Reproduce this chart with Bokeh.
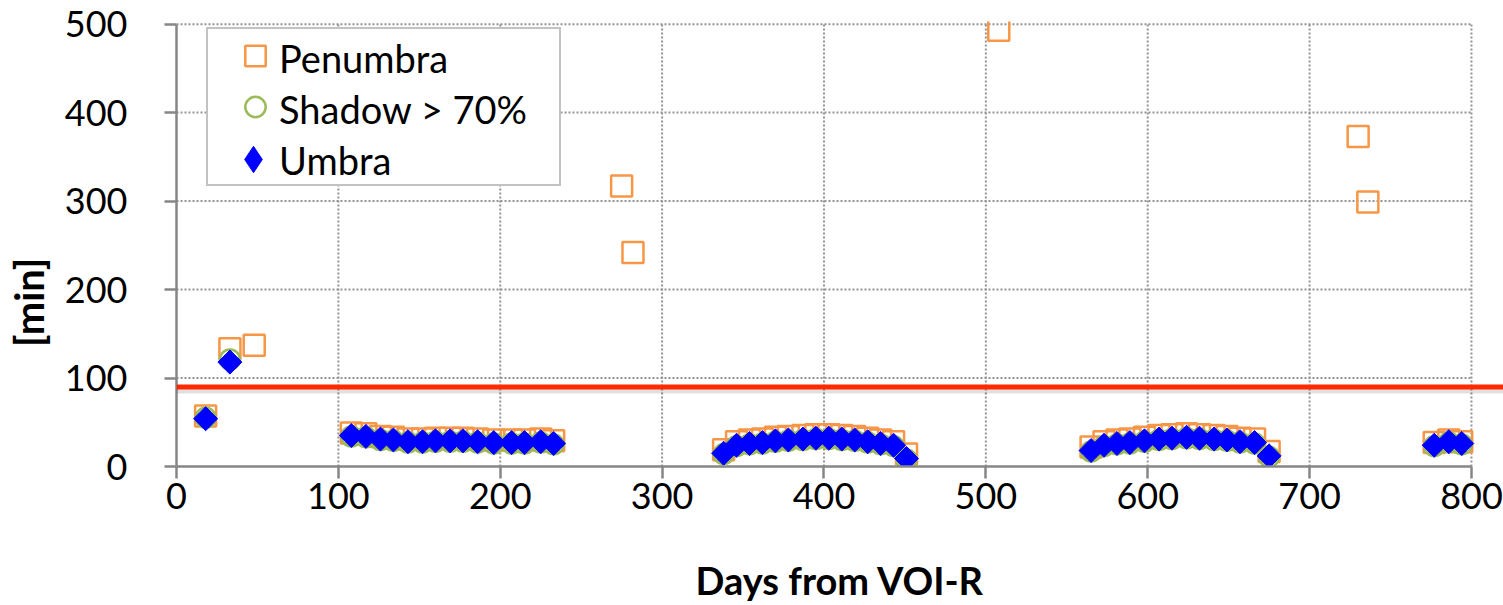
from bokeh.plotting import figure
from bokeh.models import Range1d, Legend, LegendItem, FixedTicker, Span, LinearAxis
from bokeh.embed import file_html
from bokeh.resources import INLINE
import math

# ---------------- data ----------------
x_ticks = [0, 100, 200, 300, 400, 500, 600, 700, 800]
y_ticks = [0, 100, 200, 300, 400, 500]
threshold = 90

pen_days = [18, 33, 48,
            108, 117, 126, 134, 143, 152, 160, 169, 177, 186, 196, 207, 215, 225, 233,
            275, 282,
            338, 346, 354, 362, 370, 378, 387, 395, 403, 411, 419, 427, 435, 443, 451,
            508,
            565, 573, 581, 589, 598, 607, 615, 624, 632, 641, 649, 657, 666, 675,
            730, 736,
            777, 786, 794]
pen_vals = [57, 133, 137,
            38, 37, 34, 33, 31, 31, 32, 32, 32, 31, 30, 30, 30, 31, 29,
            317, 242,
            19, 28, 30, 31, 33, 34, 35, 36, 36, 35, 34, 32, 30, 28, 14,
            493,
            22, 28, 30, 31, 33, 35, 36, 37, 36, 35, 34, 32, 31, 17,
            373, 299,
            27, 30, 28]

umb_days = [18, 33,
            108, 117, 126, 134, 143, 152, 160, 169, 177, 186, 196, 207, 215, 225, 233,
            338, 346, 354, 362, 370, 378, 387, 395, 403, 411, 419, 427, 435, 443, 451,
            565, 573, 581, 589, 598, 607, 615, 624, 632, 641, 649, 657, 666, 675,
            777, 786, 794]
umb_vals = [54, 118,
            35, 34, 31, 30, 28, 28, 29, 29, 29, 28, 27, 27, 27, 28, 26,
            15, 24, 26, 27, 29, 30, 31, 32, 32, 31, 30, 28, 26, 24, 9,
            18, 24, 26, 27, 29, 31, 32, 33, 32, 31, 30, 28, 27, 12,
            24, 28, 26]
sh_days = umb_days
sh_vals = [55, 121,
           34, 33, 30, 29, 27, 27, 28, 28, 28, 27, 26, 26, 26, 27, 25,
           14, 23, 25, 26, 28, 29, 30, 31, 31, 30, 29, 27, 25, 23, 8,
           17, 23, 25, 26, 28, 30, 31, 32, 31, 30, 29, 27, 26, 11,
           23, 27, 25]

series_labels = ["Penumbra", "Shadow > 70%", "Umbra"]
y_title = "[min]"

# ---------------- styling ----------------
FONT = "Lato"
AX = "#868686"
GRID = "#939393"
ORANGE = "#F79646"
GREEN = "#9BBB59"
BLUE = "#0000FF"

W, H = 1503, 605
LEFT, TOP, BOTTOM = 176, 21, 139
x_end = 819.8
p = figure(width=W, height=H,
           x_range=Range1d(0, x_end), y_range=Range1d(0, 503),
           output_backend="svg", toolbar_location=None,
           min_border_left=LEFT, min_border_right=0,
           min_border_top=TOP, min_border_bottom=BOTTOM)
p.outline_line_color = None
p.xgrid.visible = False
p.ygrid.visible = False

# grid lines (dotted), restricted to the 0..800 / 0..500 area
p.segment(x0=x_ticks[1:], x1=x_ticks[1:], y0=[y_ticks[0]] * (len(x_ticks) - 1),
          y1=[y_ticks[-1]] * (len(x_ticks) - 1),
          line_color=GRID, line_width=2, line_dash="2 2", level="underlay")
p.segment(x0=[x_ticks[0]] * (len(y_ticks) - 1), x1=[x_ticks[-1]] * (len(y_ticks) - 1),
          y0=y_ticks[1:], y1=y_ticks[1:],
          line_color=GRID, line_width=2, line_dash="2 2", level="underlay")

for ax in (p.xaxis[0], p.yaxis[0]):
    ax.axis_line_color = AX
    ax.axis_line_width = 2.5
    ax.major_tick_line_color = AX
    ax.major_tick_line_width = 2.5
    ax.major_tick_out = 12
    ax.major_tick_in = 0
    ax.minor_tick_line_color = None
    ax.major_label_text_font = FONT
    ax.major_label_text_font_size = "36px"
    ax.major_label_text_color = "black"
    ax.axis_label_text_font = FONT
    ax.axis_label_text_font_style = "bold"
    ax.axis_label_text_color = "black"

p.xaxis.ticker = FixedTicker(ticks=x_ticks)
p.xaxis.bounds = (x_ticks[0], x_ticks[-1])
p.xaxis.major_label_standoff = 4
p.xaxis.axis_label = "Days from VOI-R"
p.xaxis.axis_label_text_font_size = "38px"
p.xaxis.axis_label_standoff = 45

p.yaxis.ticker = FixedTicker(ticks=y_ticks)
p.yaxis.bounds = (y_ticks[0], y_ticks[-1])
p.yaxis.major_label_standoff = 37

# y-axis title: carried by a bare extra axis; trailing no-break spaces push the
# visible text a little below the axis centre, as in the original
title_axis = LinearAxis(ticker=FixedTicker(ticks=[]),
                        axis_line_color=None, major_tick_line_color=None,
                        minor_tick_line_color=None,
                        axis_label=y_title + "\u00a0" * 12, axis_label_text_font=FONT,
                        axis_label_text_font_style="bold",
                        axis_label_text_font_size="40px",
                        axis_label_text_color="black", axis_label_standoff=9)
p.add_layout(title_axis, "left")

# threshold line with soft shadow
p.add_layout(Span(location=threshold - 3.5, dimension="width",
                  line_color="black", line_alpha=0.12, line_width=7))
p.add_layout(Span(location=threshold, dimension="width",
                  line_color="#FF2A00", line_width=5))

r_pen = p.scatter(pen_days, pen_vals, marker="square", size=21,
                  line_color=ORANGE, line_width=2.5, fill_color=None)
r_sh = p.scatter(sh_days, sh_vals, marker="circle", size=20,
                 line_color=GREEN, line_width=2.5, fill_color=None)
r_umb = p.scatter(umb_days, umb_vals, marker="square", size=17, angle=math.pi / 4,
                  line_color=BLUE, fill_color=BLUE)
# legend helpers: a hidden diamond for the Umbra key and a fully transparent glyph
r_umb_leg = p.scatter(umb_days[:1], umb_vals[:1], marker="diamond", size=26,
                      line_color=BLUE, fill_color=BLUE, visible=False)
r_blank = p.scatter(umb_days[:1], umb_vals[:1], marker="circle", size=1, alpha=0)


def style_legend(lg, **kw):
    lg.click_policy = "none"
    lg.label_text_font = FONT
    lg.label_text_font_size = "38px"
    lg.label_text_color = "black"
    lg.margin = 0
    lg.spacing = 0
    for k, v in kw.items():
        setattr(lg, k, v)
    p.add_layout(lg)


# 1) framed box with the Penumbra / Shadow keys
style_legend(Legend(items=[LegendItem(label=" ", renderers=[r_pen]),
                           LegendItem(label=" ", renderers=[r_sh]),
                           LegendItem(label=" ", renderers=[r_blank])],
                    location=(30, 280)),
             padding=1, glyph_width=92, glyph_height=51, label_standoff=0,
             label_width=257, border_line_color=AX, border_line_width=2.5,
             background_fill_color="white", background_fill_alpha=1)
# 2) the Umbra diamond key
style_legend(Legend(items=[LegendItem(label=" ", renderers=[r_umb_leg])],
                    location=(44, 274)),
             padding=0, glyph_width=66, glyph_height=66, label_standoff=0,
             label_width=0, border_line_color=None, background_fill_alpha=0)
# 3) the series names
style_legend(Legend(items=[LegendItem(label=series_labels[0], renderers=[r_blank]),
                           LegendItem(label=series_labels[1], renderers=[r_blank]),
                           LegendItem(label=series_labels[2], renderers=[r_blank])],
                    location=(102, 281)),
             padding=0, glyph_width=1, glyph_height=51, label_standoff=0,
             border_line_color=None, background_fill_alpha=0)

open("out.html", "w").write(file_html(p, INLINE))
